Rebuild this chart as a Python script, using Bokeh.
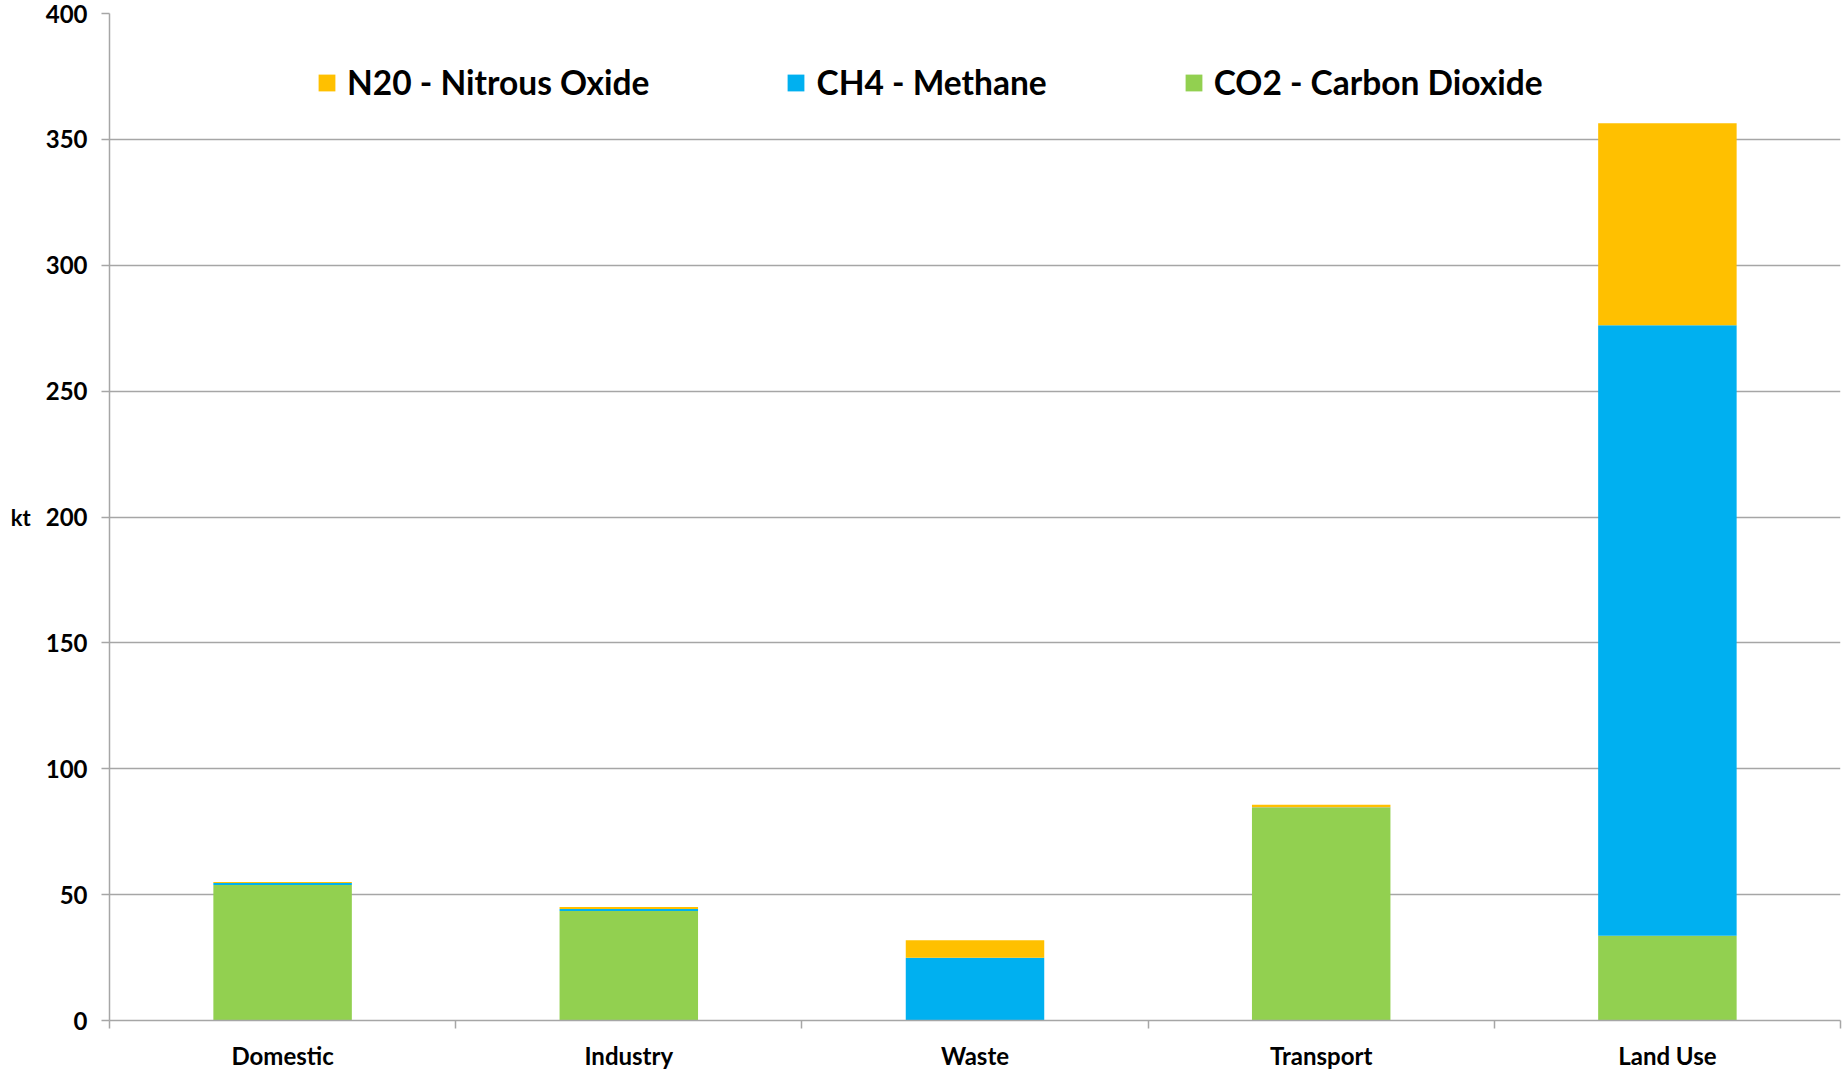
from bokeh.plotting import figure
from bokeh.models import ColumnDataSource, FixedTicker, Legend, LegendItem, Range1d
from bokeh.embed import file_html
from bokeh.resources import INLINE

# Greenhouse gas emissions by sector (kt)
categories = ["Domestic", "Industry", "Waste", "Transport", "Land Use"]
co2 = [53.8, 43.5, 0.0, 84.4, 33.7]
ch4 = [0.8, 0.8, 24.9, 0.2, 242.5]
n2o = [0.4, 0.8, 7.0, 1.1, 80.2]

series = ["co2", "ch4", "n2o"]
series_labels = {
    "n2o": "N20 - Nitrous Oxide",
    "ch4": "CH4 - Methane",
    "co2": "CO2 - Carbon Dioxide",
}
colors = {"co2": "#92D050", "ch4": "#00B0F0", "n2o": "#FFC000"}
y_ticks = [0, 50, 100, 150, 200, 250, 300, 350, 400]

FONT = "Lato"
GRID = "#A6A6A6"

centers = [i + 0.5 for i in range(len(categories))]
boundaries = list(range(len(categories) + 1))

source = ColumnDataSource(dict(x=centers, co2=co2, ch4=ch4, n2o=n2o))

p = figure(
    width=1844, height=1074,
    output_backend="svg", toolbar_location=None,
    x_range=Range1d(0, len(categories)), y_range=Range1d(0, 400),
    min_border_left=109, min_border_right=4,
    min_border_top=13, min_border_bottom=54,
)
p.outline_line_color = None
p.background_fill_color = "white"
p.border_fill_color = "white"

renderers = p.vbar_stack(
    series, x="x", width=0.4, source=source,
    color=[colors[s] for s in series], line_color=None,
)
by_name = dict(zip(series, renderers))

# grid
p.xgrid.visible = False
p.ygrid.grid_line_color = GRID
p.ygrid.grid_line_width = 1.5
p.ygrid.ticker = FixedTicker(ticks=y_ticks)

# y axis
ya = p.yaxis[0]
ya.ticker = FixedTicker(ticks=y_ticks)
ya.axis_line_color = GRID
ya.axis_line_width = 1.5
ya.major_tick_line_color = GRID
ya.major_tick_line_width = 1.5
ya.major_tick_out = 8
ya.major_tick_in = 0
ya.minor_tick_line_color = None
ya.major_label_text_font = FONT
ya.major_label_text_font_style = "bold"
ya.major_label_text_font_size = "24px"
ya.major_label_text_color = "black"
ya.major_label_standoff = 14
ya.axis_label = "kt"
ya.axis_label_orientation = "horizontal"
ya.axis_label_text_font = FONT
ya.axis_label_text_font_style = "bold"
ya.axis_label_text_font_size = "22px"
ya.axis_label_text_color = "black"
ya.axis_label_standoff = 12

# x axis: labels at category centres, tick marks at category boundaries
xa = p.xaxis[0]
xa.ticker = FixedTicker(ticks=centers, minor_ticks=boundaries)
xa.major_label_overrides = {c: name for c, name in zip(centers, categories)}
xa.axis_line_color = GRID
xa.axis_line_width = 1.5
xa.major_tick_line_color = None
xa.major_tick_out = 0
xa.major_tick_in = 0
xa.minor_tick_line_color = GRID
xa.minor_tick_line_width = 1.5
xa.minor_tick_out = 8
xa.minor_tick_in = 0
xa.major_label_text_font = FONT
xa.major_label_text_font_style = "bold"
xa.major_label_text_font_size = "24px"
xa.major_label_text_color = "black"
xa.major_label_standoff = 12

# legend across the top of the plot area
legend = Legend(
    items=[LegendItem(label=series_labels[s], renderers=[by_name[s]]) for s in ["n2o", "ch4", "co2"]],
    orientation="horizontal",
    location=(207, 918),
    padding=0, margin=0, spacing=136,
    glyph_width=21, glyph_height=21, label_standoff=10,
    label_text_font=FONT, label_text_font_style="bold",
    label_text_font_size="33.5px", label_text_color="black",
    border_line_color=None, background_fill_alpha=0,
)
p.add_layout(legend)

open("out.html", "w").write(file_html(p, INLINE))
